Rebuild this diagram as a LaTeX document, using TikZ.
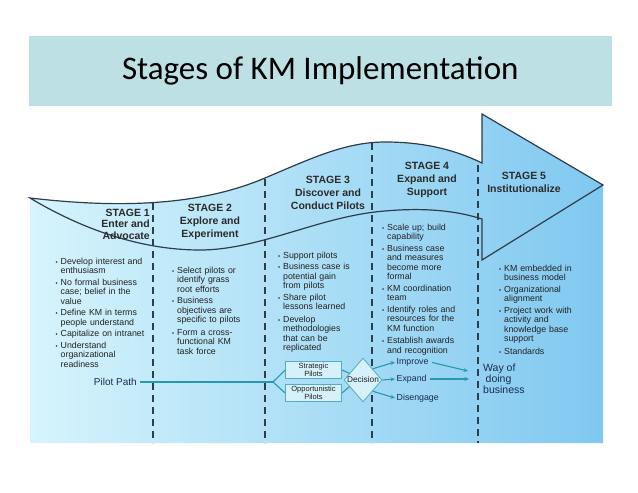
\documentclass[tikz,border=0pt]{standalone}
\usepackage{fontspec}
\setmainfont{Liberation Sans}
\newfontfamily\titlefont{Carlito}
\usetikzlibrary{arrows.meta,positioning,calc,shapes.geometric}
\definecolor{banner}{HTML}{BDE0E5}
\definecolor{paleA}{HTML}{D6F4FC}
\definecolor{paleB}{HTML}{A8E5F7}
\definecolor{paleC}{HTML}{80C8F0}
\definecolor{edgec}{HTML}{2E3D4A}
\definecolor{flow}{HTML}{2699B0}
\definecolor{boxfill}{HTML}{D6F1FA}
\definecolor{ink}{HTML}{1A2B4C}
\definecolor{bodyc}{HTML}{222222}
\definecolor{headc}{HTML}{2B2B2B}
\newcommand{\kmlist}{\setlength{\parskip}{2pt}\setlength{\lineskip}{0pt}}
\newcommand{\bul}[1]{\par\noindent\makebox[5pt][l]{\fontsize{6}{6}\selectfont\textbullet}\begin{tabular}[t]{@{}l@{}}#1\end{tabular}}

\begin{document}
\begin{tikzpicture}[x=1pt,y=-1pt,
  edge/.style={draw=edgec,line width=1.2pt},
  divider/.style={draw=edgec,line width=1.2pt,dash pattern=on 7pt off 5pt},
  stagehead/.style={font=\bfseries\fontsize{10.5}{13}\selectfont,text=headc,align=center,inner sep=0pt},
  bullets/.style={anchor=north west,inner sep=0pt,text width=120pt,font=\fontsize{8.8}{9.5}\selectfont,text=bodyc},
  pilotbox/.style={draw=flow!80,fill=boxfill,line width=0.8pt,minimum width=56pt,minimum height=17pt,inner sep=0pt,align=center,font=\fontsize{7.5}{7.8}\selectfont,text=bodyc},
  decision/.style={diamond,draw=flow!80,fill=boxfill,line width=0.8pt,inner sep=0pt,minimum height=44pt,font=\fontsize{8.3}{10}\selectfont,text=bodyc},
  outcome/.style={anchor=west,inner sep=1.5pt,font=\fontsize{8.8}{10}\selectfont,text=ink},
  link/.style={draw=flow,line width=1.1pt},
  flowarrow/.style={draw=flow,line width=1.1pt,-{Stealth[length=4.5pt,width=4pt]}}]
\useasboundingbox (0,0) rectangle (638,493);
\node[fill=banner,minimum width=583.4pt,minimum height=70pt,font=\titlefont\fontsize{33}{33}\selectfont] (title) at (320.3,71) {Stages of KM Implementation};

\shade[left color=paleA,middle color=paleB,right color=paleC] (30,198) .. controls (100,206) and (190,210) .. (265,178) .. controls (310,159) and (345,142) .. (385,142) .. controls (425,142) and (455,150) .. (482,163) -- (482,114) -- (603,185) -- (603,443) -- (30,443) -- cycle;
\draw[edge] (30,198) .. controls (100,206) and (190,210) .. (265,178) .. controls (310,159) and (345,142) .. (385,142) .. controls (425,142) and (455,150) .. (482,163) -- (482,114) -- (603,185) -- (482,260) -- (482,219) .. controls (460,212) and (430,207) .. (385,211) .. controls (320,216) and (260,250) .. (200,250) .. controls (135,250) and (75,225) .. cycle;
\foreach \x/\y in {153/203,265/179,372/143,478/165}
  \draw[divider] (\x,\y) -- (\x,443);

\node[stagehead,align=right,anchor=east,font=\bfseries\fontsize{10.5}{11.5}\selectfont] (s1) at (150,224) {STAGE 1\\Enter and\\Advocate};
\node[stagehead] (s2) at (210,222) {STAGE 2\\Explore and\\Experiment};
\node[stagehead] (s3) at (328,193) {STAGE 3\\Discover and\\Conduct Pilots};
\node[stagehead] (s4) at (427,180) {STAGE 4\\Expand and\\Support};
\node[stagehead] (s5) at (524,182.5) {STAGE 5\\Institutionalize};

\node[bullets] (s1list) at (55.5,252.5) {\kmlist
  \bul{Develop interest and\\enthusiasm}
  \bul{No formal business\\case; belief in the\\value}
  \bul{Define KM in terms\\people understand}
  \bul{Capitalize on intranet}
  \bul{Understand\\organizational\\readiness}};
\node[bullets] (s2list) at (172,261.5) {\kmlist
  \bul{Select pilots or\\identify grass\\root efforts}
  \bul{Business\\objectives are\\specific to pilots}
  \bul{Form a cross-\\functional KM\\task force}};
\node[bullets] (s3list) at (278,246.5) {\kmlist
  \bul{Support pilots}
  \bul{Business case is\\potential gain\\from pilots}
  \bul{Share pilot\\lessons learned}
  \bul{Develop\\methodologies\\that can be\\replicated}};
\node[bullets] (s4list) at (382,218.5) {\kmlist
  \bul{Scale up; build\\capability}
  \bul{Business case\\and measures\\become more\\formal}
  \bul{KM coordination\\team}
  \bul{Identify roles and\\resources for the\\KM function}
  \bul{Establish awards\\and recognition}};
\node[bullets] (s5list) at (499,259.5) {\kmlist
  \bul{KM embedded in\\business model}
  \bul{Organizational\\alignment}
  \bul{Project work with\\activity and\\knowledge base\\support}
  \bul{Standards}};

\node[anchor=east,inner sep=3pt,font=\fontsize{10}{12}\selectfont,text=ink] (pilot) at (140,382) {Pilot Path};
\coordinate (split) at (273,382);
\node[pilotbox] (strat) at (313.5,370) {Strategic\\Pilots};
\node[pilotbox] (opp) at (313.5,393) {Opportunistic\\Pilots};
\node[decision] (dec) at (363,380) {Decision};
\node[outcome] (imp) at (395,362) {Improve};
\node[outcome] (exp) at (395,379) {Expand};
\node[outcome] (dis) at (395,398) {Disengage};
\node[anchor=west,inner sep=0pt,align=left,font=\fontsize{10.5}{11}\selectfont,text=ink] (way) at (483,379) {Way of\\\hspace{2.5pt}doing\\business};
\coordinate (wayA) at (468,371);
\coordinate (wayB) at (469,379);

\draw[link] (pilot.east) -- (split);
\draw[link] (split) -- (strat.west);
\draw[link] (split) -- (opp.west);
\draw[link] (strat.east) -- ($(dec.west)!0.3!(dec.north)$);
\draw[link] (opp.east) -- ($(dec.west)!0.3!(dec.south)$);
\draw[flowarrow] (dec.north east) -- (imp.west);
\draw[flowarrow] (dec.east) -- (exp.west);
\draw[flowarrow] (dec.south east) -- (dis.west);
\draw[flowarrow,shorten <=2pt] (imp.east) -- (wayA);
\draw[flowarrow,shorten <=2pt] (exp.east) -- (wayB);
\end{tikzpicture}
\end{document}
